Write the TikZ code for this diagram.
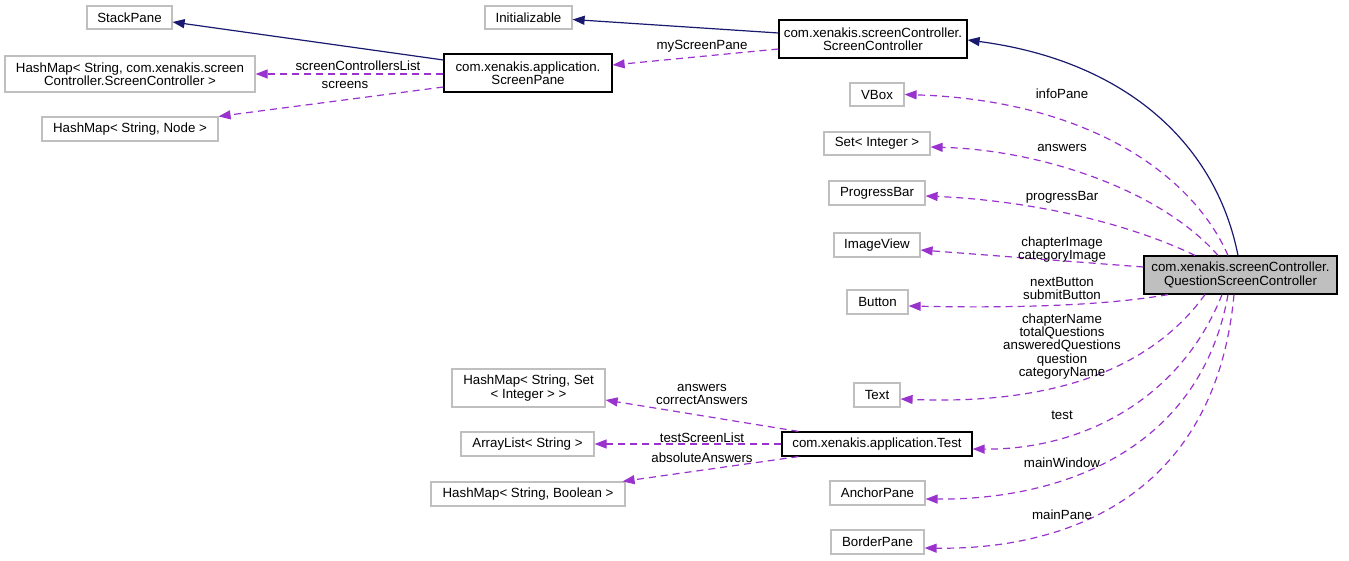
\documentclass[tikz,border=0pt]{standalone}
\usepackage{fontspec}
\setmainfont{Liberation Sans}
\usetikzlibrary{arrows.meta}
\definecolor{navyedge}{HTML}{191970}
\definecolor{useedge}{HTML}{9A32CD}
\definecolor{grayframe}{HTML}{BFBFBF}
\newcommand{\dxfont}{\fontsize{13.3}{13.3}\selectfont}
\tikzset{
  cls/.style={draw=grayframe, line width=1.2pt, fill=white, inner sep=0pt,
              align=center, font=\dxfont},
  member/.style={cls, draw=black},
  focus/.style={cls, draw=black, fill=grayframe},
  lbl/.style={inner sep=0pt, align=center, font=\dxfont},
  inherit/.style={draw=navyedge, line width=1.2pt,
                  -{Triangle[length=12pt,width=9pt]}},
  usage/.style={draw=useedge, line width=1.2pt, dash pattern=on 7pt off 5pt,
                -{Triangle[length=12pt,width=9pt]}},
}
\begin{document}
\begin{tikzpicture}[x=1pt,y=-1pt]
\useasboundingbox (0,0) rectangle (1349,561);

% classes
\node[cls, minimum width=85pt, minimum height=23pt] (stack) at (129.5,17.5) {StackPane};
\node[cls, minimum width=87pt, minimum height=23pt] (init) at (528.5,17.5) {Initializable};
\node[member, minimum width=188pt, minimum height=38pt] (sc) at (873,39) {com.xenakis.screenController.\\ScreenController};
\node[member, minimum width=168pt, minimum height=38pt] (spane) at (528,73) {com.xenakis.application.\\ScreenPane};
\node[cls, minimum width=250pt, minimum height=36pt] (hmsc) at (130,74) {HashMap< String, com.xenakis.screen\\Controller.ScreenController >};
\node[cls, minimum width=176pt, minimum height=24pt] (hmnode) at (130,129) {HashMap< String, Node >};
\node[cls, minimum width=54pt, minimum height=23pt] (vbox) at (877,94.5) {VBox};
\node[cls, minimum width=106pt, minimum height=23pt] (setint) at (877,143.5) {Set< Integer >};
\node[cls, minimum width=96pt, minimum height=24pt] (pbar) at (877,193) {ProgressBar};
\node[cls, minimum width=86pt, minimum height=24pt] (imgv) at (877,245) {ImageView};
\node[cls, minimum width=61pt, minimum height=24pt] (button) at (877.5,302) {Button};
\node[focus, minimum width=193pt, minimum height=38pt] (qsc) at (1240.5,275) {com.xenakis.screenController.\\QuestionScreenController};
\node[cls, minimum width=153pt, minimum height=38pt] (hmset) at (528.5,388) {HashMap< String, Set\\< Integer > >};
\node[cls, minimum width=133pt, minimum height=24pt] (alist) at (527.5,444) {ArrayList< String >};
\node[member, minimum width=190pt, minimum height=24pt] (test) at (877,444) {com.xenakis.application.Test};
\node[cls, minimum width=194pt, minimum height=24pt] (hmbool) at (528,494) {HashMap< String, Boolean >};
\node[cls, minimum width=46pt, minimum height=24pt] (text) at (877,395) {Text};
\node[cls, minimum width=95pt, minimum height=24pt] (anchor) at (877.5,493) {AnchorPane};
\node[cls, minimum width=93pt, minimum height=24pt] (border) at (877.5,542) {BorderPane};

% inheritance
\draw[inherit] ([yshift=13pt]spane.west) -- ([yshift=-4.5pt]stack.east);
\draw[inherit] ([yshift=6pt]sc.west) -- ([yshift=-2pt]init.east);
\draw[inherit] ([xshift=-2.5pt]qsc.north) .. controls +(-23,-116) and +(153,20) .. ([yshift=-1pt]sc.east);

% members of ScreenController and ScreenPane
\draw[usage] ([yshift=-10pt]sc.west) -- ([yshift=8pt]spane.east);
\draw[usage] ([yshift=-1pt]spane.west) -- (hmsc.east);
\draw[usage] ([yshift=-14pt]spane.west) -- (hmnode.north east);

% members of QuestionScreenController
\draw[usage] ([xshift=-12.5pt]qsc.north) .. controls +(-38,-86) and +(176,5.5) .. (vbox.east);
\draw[usage] ([xshift=-22.5pt]qsc.north) .. controls +(-58,-66) and +(110,3) .. ([yshift=-3.5pt]setint.east);
\draw[usage] ([xshift=-45.5pt]qsc.north) .. controls +(-75,-36) and +(95,4) .. ([yshift=-3pt]pbar.east);
\draw[usage] ([yshift=8pt]qsc.west) -- ([yshift=-5pt]imgv.east);
\draw[usage] ([xshift=-72.5pt]qsc.south) .. controls +(-68,12) and +(92,2) .. ([yshift=-4pt]button.east);
\draw[usage] ([xshift=-35.5pt]qsc.south) .. controls +(-55,76) and +(150,6) .. ([yshift=-4pt]text.east);
\draw[usage] ([xshift=-18.5pt]qsc.south) .. controls +(-42,106) and +(108,1) .. ([yshift=-5pt]test.east);
\draw[usage] ([xshift=-12.5pt]qsc.south) .. controls +(-28,156) and +(135,1) .. ([yshift=-6pt]anchor.east);
\draw[usage] ([xshift=-6.5pt]qsc.south) .. controls +(-19,206) and +(136,2) .. ([yshift=-6pt]border.east);

% members of Test
\draw[usage] ([xshift=17pt]test.north west) -- ([yshift=-12pt]hmset.east);
\draw[usage] (test.west) -- (alist.east);
\draw[usage] ([xshift=17pt]test.south west) -- ([xshift=-3pt]hmbool.north east);

% edge labels
\node[lbl] (lMyPane) at (702,46) {myScreenPane};
\node[lbl] (lCtrlList) at (358,66) {screenControllersList};
\node[lbl] (lScreens) at (345,85) {screens};
\node[lbl] (lInfo) at (1062,94) {infoPane};
\node[lbl] (lAnswers) at (1062,148) {answers};
\node[lbl] (lProgress) at (1062,197) {progressBar};
\node[lbl] (lImages) at (1062,249.5) {chapterImage\\categoryImage};
\node[lbl] (lButtons) at (1062,288.5) {nextButton\\submitButton};
\node[lbl] (lTexts) at (1062,346.5) {chapterName\\totalQuestions\\answeredQuestions\\question\\categoryName};
\node[lbl] (lTest) at (1062,415) {test};
\node[lbl] (lWindow) at (1062,463) {mainWindow};
\node[lbl] (lMainPane) at (1062,515) {mainPane};
\node[lbl] (lCorrect) at (702,394.5) {answers\\correctAnswers};
\node[lbl] (lList) at (702,438) {testScreenList};
\node[lbl] (lAbsolute) at (702,458) {absoluteAnswers};
\end{tikzpicture}
\end{document}
